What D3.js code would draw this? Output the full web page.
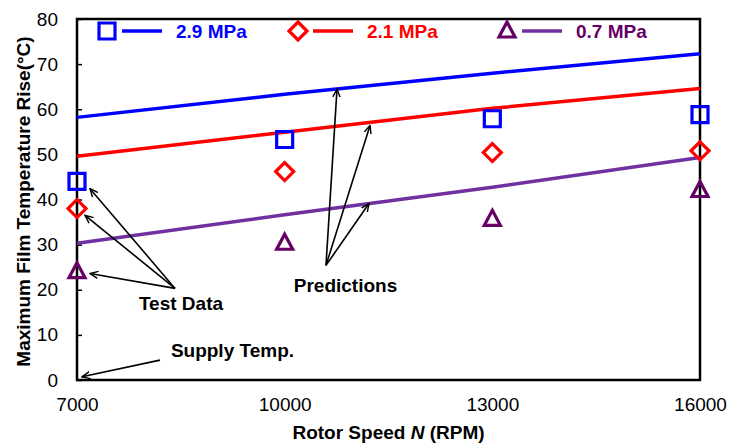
<!DOCTYPE html>
<html>
<head>
<meta charset="utf-8">
<script src="https://cdn.jsdelivr.net/npm/d3@7"></script>
<style>
  body { margin: 0; background: #fff; }
  text { font-family: "Liberation Sans", Arial, sans-serif; }
</style>
</head>
<body>
<div id="chart"></div>
<script>
// speeds (RPM)
const rpm = [7000, 10000, 13000, 16000];
const yTicks = [0, 10, 20, 30, 40, 50, 60, 70, 80];

// test data
const test29 = [44, 53.3, 57.9, 58.8];
const test21 = [38, 46.2, 50.4, 50.8];
const test07 = [24, 30.3, 35.6, 42];

// predictions
const pred29 = [58.2, 63.3, 68.0, 72.3];
const pred21 = [49.6, 54.9, 60.2, 64.6];
const pred07 = [30.3, 36.6, 42.7, 49.3];

const series = [
  { name: "2.9 MPa", test: test29, pred: pred29, color: "#0000ff", line: "#0000ff", shape: "square" },
  { name: "2.1 MPa", test: test21, pred: pred21, color: "#ff0000", line: "#ff0000", shape: "diamond" },
  { name: "0.7 MPa", test: test07, pred: pred07, color: "#660066", line: "#7030a0", shape: "triangle" }
];

const width = 729, height = 443;
const margin = { top: 19, right: 29, bottom: 63, left: 77 };
const fs = "19px";

const svg = d3.select("#chart").append("svg")
  .attr("width", width)
  .attr("height", height);

const x = d3.scaleLinear([7000, 16000], [margin.left, width - margin.right]);
const y = d3.scaleLinear([0, 80], [height - margin.bottom, margin.top]);

svg.append("defs").append("marker")
  .attr("id", "arrow")
  .attr("viewBox", "0 0 10 10")
  .attr("refX", 9).attr("refY", 5)
  .attr("markerWidth", 9).attr("markerHeight", 9)
  .attr("markerUnits", "userSpaceOnUse")
  .attr("orient", "auto")
  .append("path")
  .attr("d", "M0,1 L9,5 L0,9")
  .attr("fill", "none")
  .attr("stroke", "#000")
  .attr("stroke-width", 1.6);

// y axis with inward ticks
const yAxis = svg.append("g")
  .attr("transform", `translate(${margin.left},0)`)
  .call(d3.axisLeft(y).tickValues(yTicks).tickSize(-5).tickPadding(19).tickFormat(d3.format("d")));
yAxis.select(".domain").remove();
yAxis.selectAll("line").attr("stroke-width", 1.5);
yAxis.selectAll("text").style("font-size", fs).attr("fill", "#000");

// x axis labels
const xAxis = svg.append("g")
  .attr("transform", `translate(0,${height - margin.bottom})`)
  .call(d3.axisBottom(x).tickValues(rpm).tickSize(0).tickPadding(18).tickFormat(d3.format("d")));
xAxis.select(".domain").remove();
xAxis.selectAll("text").style("font-size", fs).attr("fill", "#000");

// frame
svg.append("rect")
  .attr("x", x(7000)).attr("y", y(80))
  .attr("width", x(16000) - x(7000)).attr("height", y(0) - y(80))
  .attr("fill", "none").attr("stroke", "#000").attr("stroke-width", 2.5);

// prediction lines
const line = d3.line().x((d, i) => x(rpm[i])).y(d => y(d));
svg.append("g").selectAll("path")
  .data(series)
  .join("path")
  .attr("d", d => line(d.pred))
  .attr("fill", "none")
  .attr("stroke", d => d.line)
  .attr("stroke-width", 3.5);

function symbolPath(shape, cx, cy) {
  if (shape === "square") return `M${cx - 8},${cy - 8}h16v16h-16z`;
  if (shape === "diamond") return `M${cx},${cy - 9}L${cx + 9},${cy}L${cx},${cy + 9}L${cx - 9},${cy}z`;
  return `M${cx},${cy - 9}L${cx + 8},${cy + 6}L${cx - 8},${cy + 6}z`;
}

// test data markers
series.forEach(s => {
  svg.append("g").selectAll("path")
    .data(s.test)
    .join("path")
    .attr("d", (d, i) => symbolPath(s.shape, x(rpm[i]), y(d)))
    .attr("fill", "none")
    .attr("stroke", s.color)
    .attr("stroke-width", 3.2)
    .attr("stroke-linejoin", "miter");
});

// legend
const legendX = [107, 298, 507];
series.forEach((s, i) => {
  const g = svg.append("g").attr("transform", `translate(${legendX[i]},31)`);
  g.append("path").attr("d", symbolPath(s.shape, 0, 0))
    .attr("fill", "none").attr("stroke", s.color).attr("stroke-width", 3.2);
  g.append("line").attr("x1", 15).attr("x2", 55).attr("y1", 0).attr("y2", 0)
    .attr("stroke", s.line).attr("stroke-width", 3.5);
  g.append("text").attr("x", 69).attr("y", 7)
    .attr("fill", s.color).style("font-size", fs).style("font-weight", "bold")
    .text(s.name);
});

// annotations (data coordinates, text at baseline)
const annotations = [
  { text: "Test Data", tx: 8502, ty: 15.5, from: [8416, 20.3], to: [[7188, 42.4], [7116, 36.5], [7188, 23.6]] },
  { text: "Predictions", tx: 10879, ty: 19.4, from: [10597, 25.4], to: [[10756, 64.5], [11233, 56.4], [11218, 39.1]] },
  { text: "Supply Temp.", tx: 9246, ty: 5.1, from: [8199, 4.4], to: [[7072, 0.7]] }
];
annotations.forEach(a => {
  a.to.forEach(t => {
    svg.append("line")
      .attr("x1", x(a.from[0])).attr("y1", y(a.from[1]))
      .attr("x2", x(t[0])).attr("y2", y(t[1]))
      .attr("stroke", "#000").attr("stroke-width", 1.6)
      .attr("marker-end", "url(#arrow)");
  });
  svg.append("text")
    .attr("x", x(a.tx)).attr("y", y(a.ty))
    .attr("text-anchor", "middle")
    .style("font-size", fs).style("font-weight", "bold")
    .text(a.text);
});

// axis titles
const xt = svg.append("text")
  .attr("x", (x(7000) + x(16000)) / 2).attr("y", height - 4)
  .attr("text-anchor", "middle")
  .style("font-size", fs).style("font-weight", "bold");
xt.append("tspan").text("Rotor Speed ");
xt.append("tspan").style("font-style", "italic").text("N");
xt.append("tspan").text(" (RPM)");

svg.append("text")
  .attr("transform", `translate(30,${(y(0) + y(80)) / 2 + 2}) rotate(-90)`)
  .attr("text-anchor", "middle")
  .style("font-size", fs).style("font-weight", "bold")
  .text("Maximum Film Temperature Rise(°C)");
</script>
</body>
</html>
